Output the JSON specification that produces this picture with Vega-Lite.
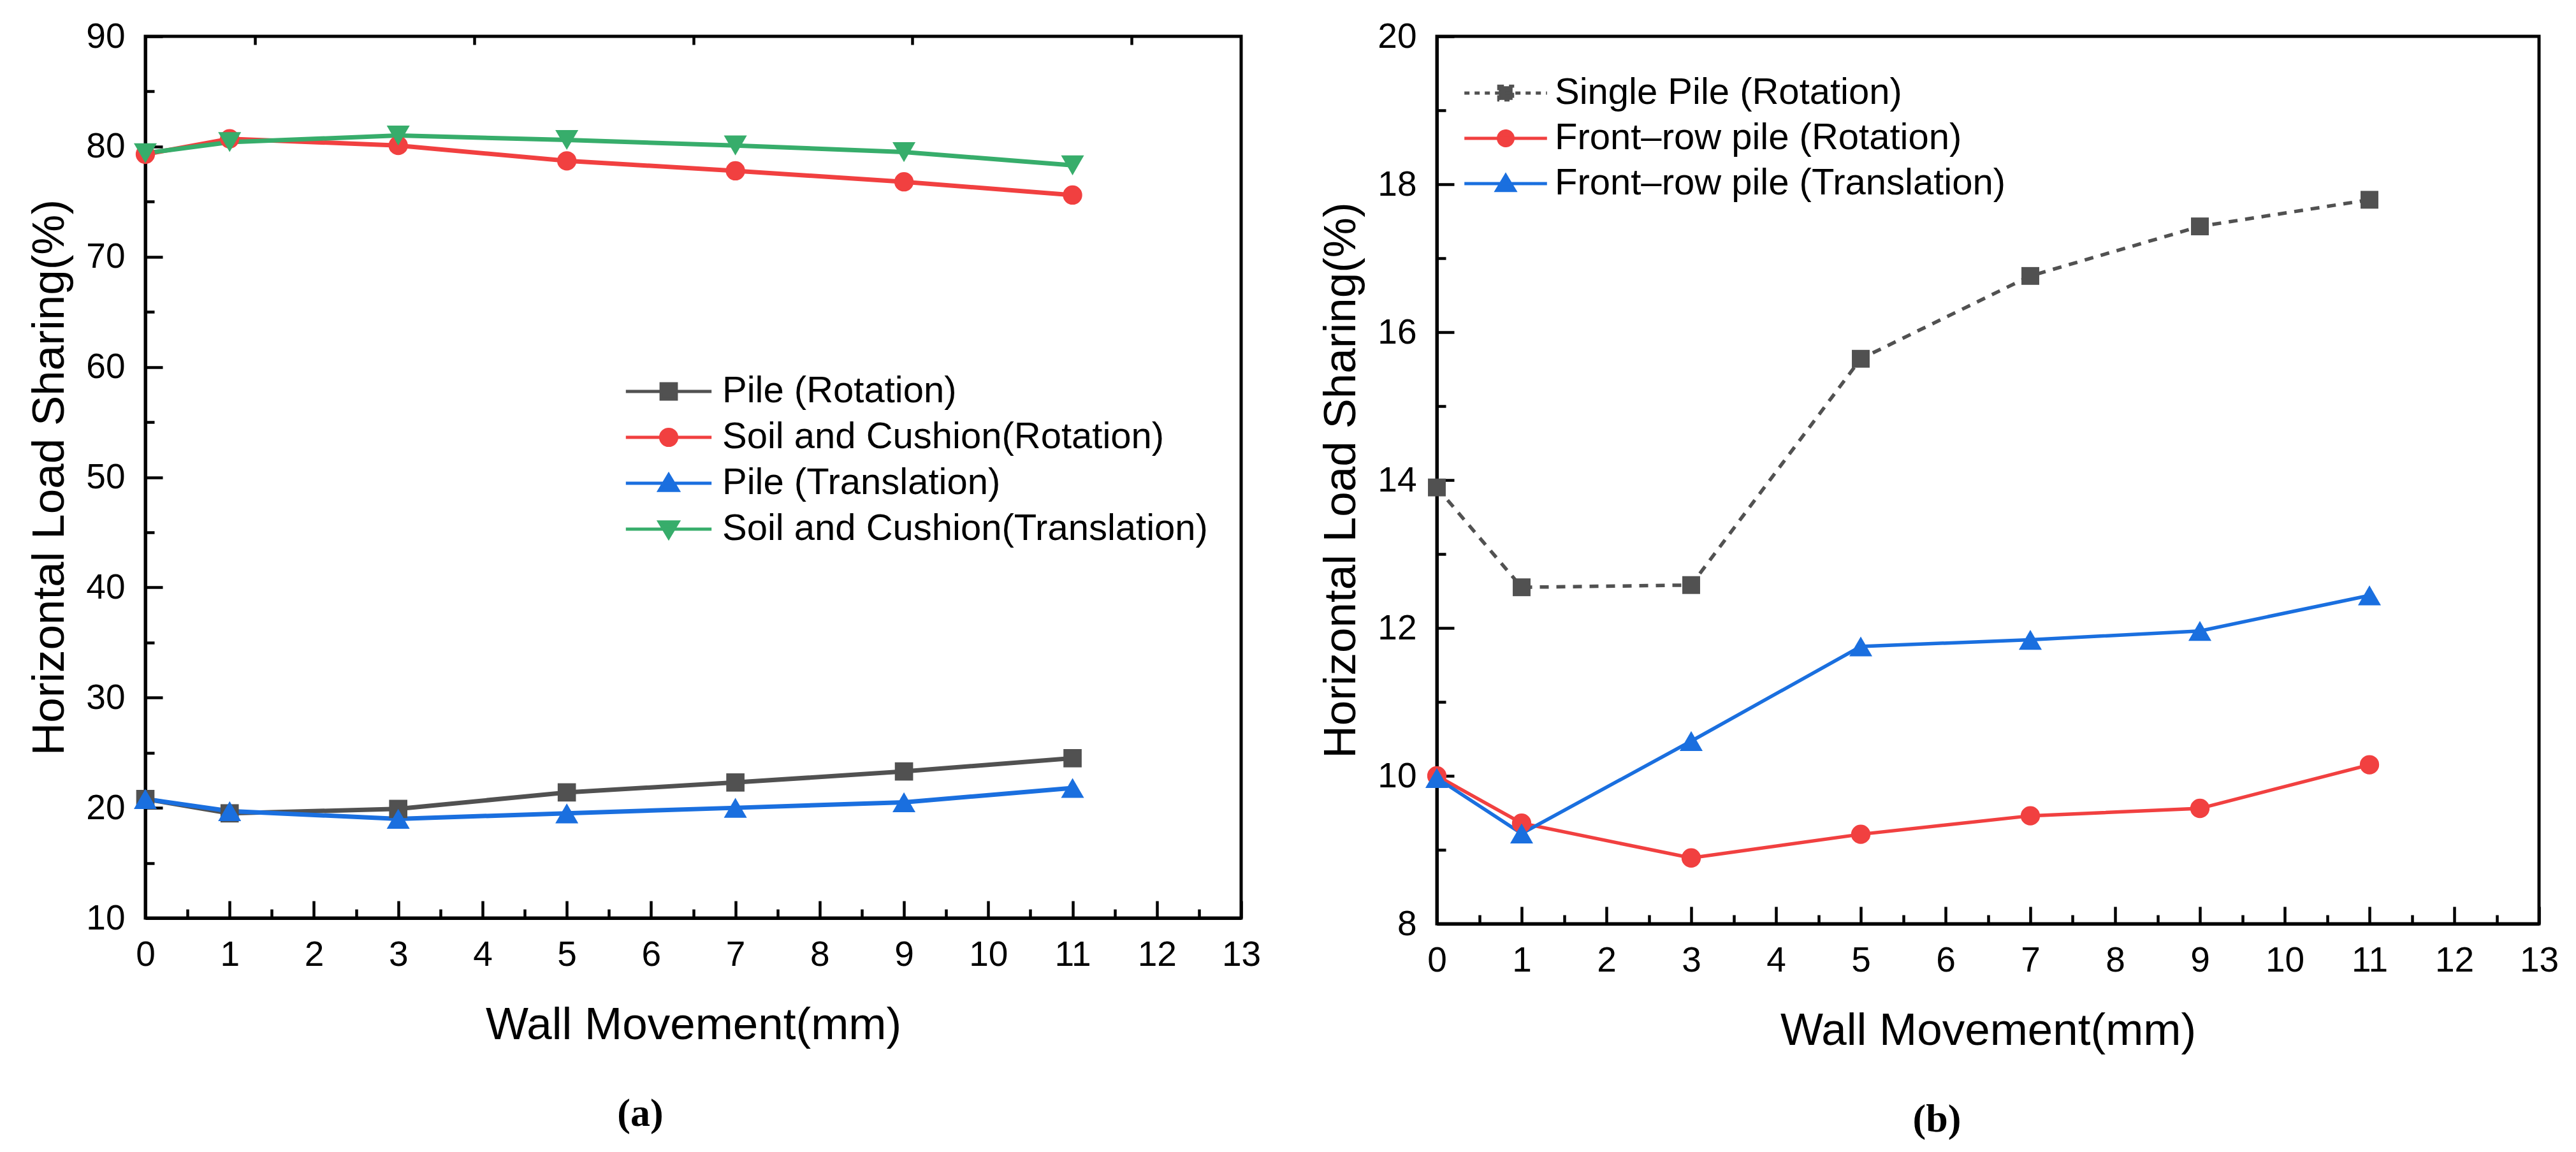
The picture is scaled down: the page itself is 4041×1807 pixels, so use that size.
{
  "$schema": "https://vega.github.io/schema/vega-lite/v6.json",
  "background": "white",
  "padding": {"left": 40, "top": 27, "right": 0, "bottom": 0},
  "datasets": {
    "a": [
      {"wall": 0, "share": 20.8, "series": "Pile (Rotation)"},
      {"wall": 1, "share": 19.5, "series": "Pile (Rotation)"},
      {"wall": 3, "share": 19.9, "series": "Pile (Rotation)"},
      {"wall": 5, "share": 21.4, "series": "Pile (Rotation)"},
      {"wall": 7, "share": 22.3, "series": "Pile (Rotation)"},
      {"wall": 9, "share": 23.3, "series": "Pile (Rotation)"},
      {"wall": 11, "share": 24.5, "series": "Pile (Rotation)"},
      {"wall": 0, "share": 79.3, "series": "Soil and Cushion(Rotation)"},
      {"wall": 1, "share": 80.7, "series": "Soil and Cushion(Rotation)"},
      {"wall": 3, "share": 80.1, "series": "Soil and Cushion(Rotation)"},
      {"wall": 5, "share": 78.7, "series": "Soil and Cushion(Rotation)"},
      {"wall": 7, "share": 77.8, "series": "Soil and Cushion(Rotation)"},
      {"wall": 9, "share": 76.8, "series": "Soil and Cushion(Rotation)"},
      {"wall": 11, "share": 75.6, "series": "Soil and Cushion(Rotation)"},
      {"wall": 0, "share": 20.8, "series": "Pile (Translation)"},
      {"wall": 1, "share": 19.7, "series": "Pile (Translation)"},
      {"wall": 3, "share": 19.0, "series": "Pile (Translation)"},
      {"wall": 5, "share": 19.5, "series": "Pile (Translation)"},
      {"wall": 7, "share": 20.0, "series": "Pile (Translation)"},
      {"wall": 9, "share": 20.5, "series": "Pile (Translation)"},
      {"wall": 11, "share": 21.8, "series": "Pile (Translation)"},
      {"wall": 0, "share": 79.4, "series": "Soil and Cushion(Translation)"},
      {"wall": 1, "share": 80.4, "series": "Soil and Cushion(Translation)"},
      {"wall": 3, "share": 81.0, "series": "Soil and Cushion(Translation)"},
      {"wall": 5, "share": 80.6, "series": "Soil and Cushion(Translation)"},
      {"wall": 7, "share": 80.1, "series": "Soil and Cushion(Translation)"},
      {"wall": 9, "share": 79.5, "series": "Soil and Cushion(Translation)"},
      {"wall": 11, "share": 78.3, "series": "Soil and Cushion(Translation)"}
    ],
    "b": [
      {"wall": 0, "share": 13.9, "series": "Single Pile (Rotation)"},
      {"wall": 1, "share": 12.55, "series": "Single Pile (Rotation)"},
      {"wall": 3, "share": 12.58, "series": "Single Pile (Rotation)"},
      {"wall": 5, "share": 15.64, "series": "Single Pile (Rotation)"},
      {"wall": 7, "share": 16.76, "series": "Single Pile (Rotation)"},
      {"wall": 9, "share": 17.43, "series": "Single Pile (Rotation)"},
      {"wall": 11, "share": 17.79, "series": "Single Pile (Rotation)"},
      {"wall": 0, "share": 10.0, "series": "Front–row pile (Rotation)"},
      {"wall": 1, "share": 9.36, "series": "Front–row pile (Rotation)"},
      {"wall": 3, "share": 8.89, "series": "Front–row pile (Rotation)"},
      {"wall": 5, "share": 9.21, "series": "Front–row pile (Rotation)"},
      {"wall": 7, "share": 9.46, "series": "Front–row pile (Rotation)"},
      {"wall": 9, "share": 9.56, "series": "Front–row pile (Rotation)"},
      {"wall": 11, "share": 10.15, "series": "Front–row pile (Rotation)"},
      {"wall": 0, "share": 9.97, "series": "Front–row pile (Translation)"},
      {"wall": 1, "share": 9.22, "series": "Front–row pile (Translation)"},
      {"wall": 3, "share": 10.47, "series": "Front–row pile (Translation)"},
      {"wall": 5, "share": 11.75, "series": "Front–row pile (Translation)"},
      {"wall": 7, "share": 11.84, "series": "Front–row pile (Translation)"},
      {"wall": 9, "share": 11.96, "series": "Front–row pile (Translation)"},
      {"wall": 11, "share": 12.44, "series": "Front–row pile (Translation)"}
    ]
  },
  "config": {
    "font": "Liberation Sans",
    "view": {"stroke": "black", "strokeWidth": 5},
    "axis": {
      "grid": false,
      "domainColor": "black",
      "domainWidth": 5,
      "tickColor": "black",
      "tickWidth": 4.5,
      "labelFont": "Liberation Sans",
      "labelFontSize": 55,
      "labelColor": "black",
      "titleFont": "Liberation Sans",
      "titleFontSize": 71,
      "titleFontWeight": "normal",
      "titleColor": "black"
    },
    "legend": {
      "labelFont": "Liberation Sans",
      "labelFontSize": 58,
      "labelColor": "black",
      "labelLimit": 2000,
      "symbolOpacity": 1,
      "symbolStrokeWidth": 5
    },
    "title": {
      "font": "Liberation Serif",
      "fontSize": 62,
      "fontWeight": "bold",
      "color": "black"
    }
  },
  "resolve": {
    "scale": {"color": "independent", "fill": "independent", "stroke": "independent", "shape": "independent", "strokeDash": "independent"},
    "legend": {"fill": "independent", "stroke": "independent", "shape": "independent", "strokeDash": "independent"}
  },
  "spacing": 85,
  "hconcat": [
    {
      "width": 1719,
      "height": 1383,
      "data": {"name": "a"},
      "title": {"text": "(a)", "orient": "bottom", "anchor": "middle", "frame": "group", "dx": -83, "offset": 74},
      "resolve": {"axis": {"x": "independent", "y": "independent"}},
      "layer": [
        {
          "mark": {"type": "line", "strokeWidth": 7},
          "encoding": {
            "x": {"field": "wall", "type": "quantitative", "scale": {"domain": [0, 13], "nice": false, "zero": false},
              "axis": {"orient": "bottom", "title": "Wall Movement(mm)", "values": [0,1,2,3,4,5,6,7,8,9,10,11,12,13], "tickSize": -27, "labelPadding": 58, "titlePadding": 48, "labelFlush": false}},
            "y": {"field": "share", "type": "quantitative", "scale": {"domain": [10, 90], "nice": false, "zero": false},
              "axis": {"orient": "left", "title": "Horizontal Load Sharing(%)", "values": [10,20,30,40,50,60,70,80,90], "tickSize": -27, "labelPadding": 59, "titlePadding": 20, "labelFlush": false}},
            "color": {"field": "series", "type": "nominal", "legend": null,
              "scale": {"domain": ["Soil and Cushion(Translation)", "Pile (Translation)", "Soil and Cushion(Rotation)", "Pile (Rotation)"], "range": ["#37AD6B", "#1A6FDF", "#F14040", "#515151"]}}
          }
        },
        {
          "mark": {"type": "point", "opacity": 0, "size": 784},
          "encoding": {
            "x": {"field": "wall", "type": "quantitative",
              "axis": {"orient": "top", "title": null, "labels": false, "domain": false, "values": [1.3, 3.9, 6.5, 9.1, 11.7], "tickSize": -13}},
            "y": {"field": "share", "type": "quantitative", "axis": null},
            "fill": {"field": "series", "type": "nominal",
              "scale": {"domain": ["Pile (Rotation)", "Soil and Cushion(Rotation)", "Pile (Translation)", "Soil and Cushion(Translation)"], "range": ["#515151", "#F14040", "#1A6FDF", "#37AD6B"]},
              "legend": {
                "title": null, "orient": "none", "legendX": 792, "legendY": 528, "padding": 0,
                "symbolSize": 784, "labelOffset": 55, "rowPadding": 14, "symbolOpacity": 1, "symbolStrokeWidth": 5
              }},
            "stroke": {"field": "series", "type": "nominal",
              "scale": {"domain": ["Pile (Rotation)", "Soil and Cushion(Rotation)", "Pile (Translation)", "Soil and Cushion(Translation)"], "range": ["#515151", "#F14040", "#1A6FDF", "#37AD6B"]}},
            "shape": {"field": "series", "type": "nominal",
              "scale": {"domain": ["Pile (Rotation)", "Soil and Cushion(Rotation)", "Pile (Translation)", "Soil and Cushion(Translation)"],
                "range": [
                  "M-4.8,0H4.8M-0.85,-0.85H0.85V0.85H-0.85Z",
                  "M-4.8,0H4.8M0.9,0A0.9,0.9,0,1,1,-0.9,0A0.9,0.9,0,1,1,0.9,0Z",
                  "M-4.8,0H4.8M0,-0.95L1.05,0.8H-1.05Z",
                  "M-4.8,0H4.8M0,0.95L1.05,-0.8H-1.05Z"
                ]}}
          }
        },
        {
          "transform": [{"filter": "datum.series === 'Pile (Rotation)'"}],
          "mark": {"type": "point", "filled": true, "opacity": 1, "shape": "square", "size": 820, "color": "#515151"},
          "encoding": {
            "x": {"field": "wall", "type": "quantitative", "axis": null},
            "y": {"field": "share", "type": "quantitative", "axis": null}
          }
        },
        {
          "transform": [{"filter": "datum.series === 'Soil and Cushion(Rotation)'"}],
          "mark": {"type": "point", "filled": true, "opacity": 1, "shape": "circle", "size": 920, "color": "#F14040"},
          "encoding": {
            "x": {"field": "wall", "type": "quantitative", "axis": null},
            "y": {"field": "share", "type": "quantitative", "axis": null}
          }
        },
        {
          "transform": [{"filter": "datum.series === 'Pile (Translation)'"}],
          "mark": {"type": "point", "filled": true, "opacity": 1, "shape": "triangle-up", "size": 1300, "color": "#1A6FDF"},
          "encoding": {
            "x": {"field": "wall", "type": "quantitative", "axis": null},
            "y": {"field": "share", "type": "quantitative", "axis": null}
          }
        },
        {
          "transform": [{"filter": "datum.series === 'Soil and Cushion(Translation)'"}],
          "mark": {"type": "point", "filled": true, "opacity": 1, "shape": "triangle-down", "size": 1300, "color": "#37AD6B"},
          "encoding": {
            "x": {"field": "wall", "type": "quantitative", "axis": null},
            "y": {"field": "share", "type": "quantitative", "axis": null}
          }
        },
        {
          "mark": {"type": "point", "opacity": 0},
          "encoding": {
            "x": {"field": "wall", "type": "quantitative",
              "axis": {"orient": "bottom", "title": null, "labels": false, "domain": false, "values": [0.5,1.5,2.5,3.5,4.5,5.5,6.5,7.5,8.5,9.5,10.5,11.5,12.5], "tickSize": -14}},
            "y": {"field": "share", "type": "quantitative",
              "axis": {"orient": "left", "title": null, "labels": false, "domain": false, "values": [15,25,35,45,55,65,75,85], "tickSize": -14}}
          }
        }
      ]
    },
    {
      "width": 1729,
      "height": 1392,
      "data": {"name": "b"},
      "title": {"text": "(b)", "orient": "bottom", "anchor": "middle", "frame": "group", "dx": -80, "offset": 74},
      "resolve": {"axis": {"x": "independent", "y": "independent"}},
      "layer": [
        {
          "transform": [{"filter": "datum.series !== 'Single Pile (Rotation)'"}],
          "mark": {"type": "line", "strokeWidth": 5.5},
          "encoding": {
            "x": {"field": "wall", "type": "quantitative", "scale": {"domain": [0, 13], "nice": false, "zero": false},
              "axis": {"orient": "bottom", "title": "Wall Movement(mm)", "values": [0,1,2,3,4,5,6,7,8,9,10,11,12,13], "tickSize": -27, "labelPadding": 58, "titlePadding": 48, "labelFlush": false}},
            "y": {"field": "share", "type": "quantitative", "scale": {"domain": [8, 20], "nice": false, "zero": false},
              "axis": {"orient": "left", "title": "Horizontal Load Sharing(%)", "values": [8,10,12,14,16,18,20], "tickSize": -27, "labelPadding": 59, "titlePadding": 20, "labelFlush": false}},
            "color": {"field": "series", "type": "nominal", "legend": null,
              "scale": {"domain": ["Front–row pile (Rotation)", "Front–row pile (Translation)"], "range": ["#F14040", "#1A6FDF"]}}
          }
        },
        {
          "transform": [{"filter": "datum.series === 'Single Pile (Rotation)'"}],
          "mark": {"type": "line", "strokeWidth": 5.5, "color": "#515151", "strokeDash": [14, 12]},
          "encoding": {
            "x": {"field": "wall", "type": "quantitative", "axis": null},
            "y": {"field": "share", "type": "quantitative", "axis": null}
          }
        },
        {
          "transform": [{"filter": "datum.series === 'Single Pile (Rotation)'"}],
          "mark": {"type": "point", "filled": true, "opacity": 1, "shape": "square", "size": 780, "color": "#515151"},
          "encoding": {
            "x": {"field": "wall", "type": "quantitative", "axis": null},
            "y": {"field": "share", "type": "quantitative", "axis": null}
          }
        },
        {
          "transform": [{"filter": "datum.series === 'Front–row pile (Rotation)'"}],
          "mark": {"type": "point", "filled": true, "opacity": 1, "shape": "circle", "size": 920, "color": "#F14040"},
          "encoding": {
            "x": {"field": "wall", "type": "quantitative", "axis": null},
            "y": {"field": "share", "type": "quantitative", "axis": null}
          }
        },
        {
          "transform": [{"filter": "datum.series === 'Front–row pile (Translation)'"}],
          "mark": {"type": "point", "filled": true, "opacity": 1, "shape": "triangle-up", "size": 1300, "color": "#1A6FDF"},
          "encoding": {
            "x": {"field": "wall", "type": "quantitative", "axis": null},
            "y": {"field": "share", "type": "quantitative", "axis": null}
          }
        },
        {
          "mark": {"type": "point", "opacity": 0, "size": 729},
          "encoding": {
            "x": {"field": "wall", "type": "quantitative", "axis": null},
            "y": {"field": "share", "type": "quantitative", "axis": null},
            "fill": {"field": "series", "type": "nominal",
              "scale": {"domain": ["Single Pile (Rotation)", "Front–row pile (Rotation)", "Front–row pile (Translation)"], "range": ["#515151", "#F14040", "#1A6FDF"]},
              "legend": {
                "title": null, "orient": "none", "legendX": 79, "legendY": 60, "padding": 0,
                "symbolSize": 729, "labelOffset": 48, "rowPadding": 13, "symbolOpacity": 1, "symbolStrokeWidth": 5
              }},
            "stroke": {"field": "series", "type": "nominal",
              "scale": {"domain": ["Single Pile (Rotation)", "Front–row pile (Rotation)", "Front–row pile (Translation)"], "range": ["#515151", "#F14040", "#1A6FDF"]}},
            "strokeDash": {"field": "series", "type": "nominal",
              "scale": {"domain": ["Single Pile (Rotation)", "Front–row pile (Rotation)", "Front–row pile (Translation)"], "range": [[8, 8], [1, 0], [1, 0]]}},
            "shape": {"field": "series", "type": "nominal",
              "scale": {"domain": ["Single Pile (Rotation)", "Front–row pile (Rotation)", "Front–row pile (Translation)"],
                "range": [
                  "M-4.8,0H4.8M-0.8,-0.8H0.8V0.8H-0.8Z",
                  "M-4.8,0H4.8M0.85,0A0.85,0.85,0,1,1,-0.85,0A0.85,0.85,0,1,1,0.85,0Z",
                  "M-4.8,0H4.8M0,-0.95L1.05,0.8H-1.05Z"
                ]}}
          }
        },
        {
          "mark": {"type": "point", "opacity": 0},
          "encoding": {
            "x": {"field": "wall", "type": "quantitative",
              "axis": {"orient": "bottom", "title": null, "labels": false, "domain": false, "values": [0.5,1.5,2.5,3.5,4.5,5.5,6.5,7.5,8.5,9.5,10.5,11.5,12.5], "tickSize": -14}},
            "y": {"field": "share", "type": "quantitative",
              "axis": {"orient": "left", "title": null, "labels": false, "domain": false, "values": [9,11,13,15,17,19], "tickSize": -14}}
          }
        }
      ]
    }
  ]
}
